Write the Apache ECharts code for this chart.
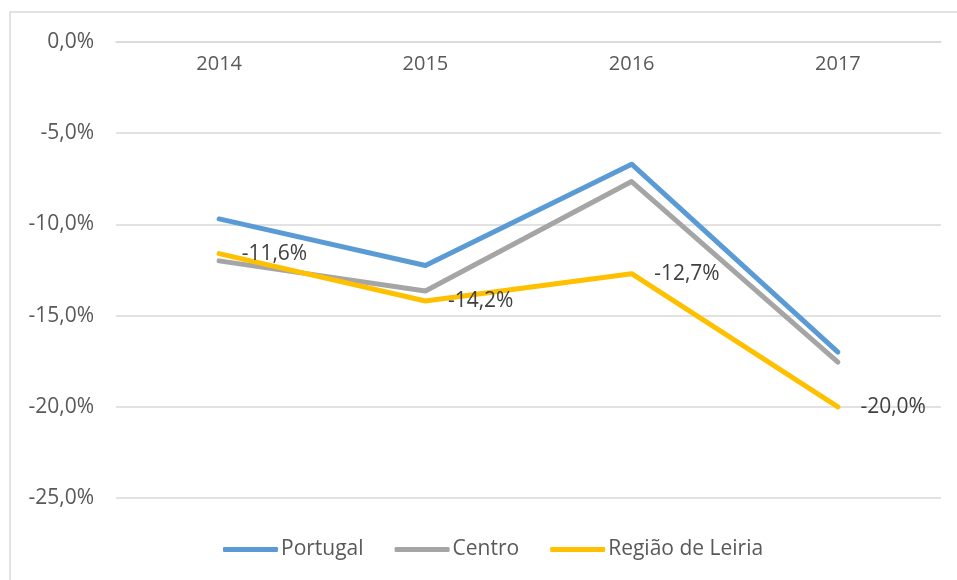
<!DOCTYPE html>
<html>
<head>
<meta charset="utf-8">
<script src="https://cdn.jsdelivr.net/npm/echarts@6/dist/echarts.min.js"></script>
<style>
  html, body { margin: 0; padding: 0; background: #fff; }
  #chart { width: 957px; height: 580px; }
</style>
</head>
<body>
<div id="chart"></div>
<script>
var years = ["2014", "2015", "2016", "2017"];
var portugal = [-9.7, -12.25, -6.7, -17.0];
var centro = [-12.0, -13.65, -7.65, -17.55];
var leiria = [-11.6, -14.2, -12.7, -20.0];

var fontFamily = "'Open Sans', 'Liberation Sans', sans-serif";
var textColor = "#595959";

function pct(v) {
  return v.toFixed(1).replace(".", ",") + "%";
}

var chart = echarts.init(document.getElementById("chart"));
var option = {
  animation: false,
  backgroundColor: "#fff",
  graphic: [
    {
      type: "rect",
      shape: { x: 10, y: 12, width: 960, height: 600 },
      style: { fill: "none", stroke: "#d9d9d9", lineWidth: 1.5 },
    },
  ],
  grid: {
    left: 116,
    right: 16,
    top: 42,
    bottom: 82,
  },
  legend: {
    bottom: 15,
    left: 218,
    itemWidth: 55,
    itemHeight: 5,
    itemGap: 31,
    icon: "roundRect",
    textStyle: { color: textColor, fontSize: 21, fontFamily: fontFamily, padding: [0, 0, 0, -2] },
    data: ["Portugal", "Centro", "Região de Leiria"],
  },
  xAxis: {
    type: "category",
    position: "top",
    data: years,
    boundaryGap: true,
    axisLine: { show: true, lineStyle: { color: "#d9d9d9", width: 1.5 } },
    axisTick: { show: false },
    axisLabel: {
      inside: true,
      margin: 22,
      color: textColor,
      fontSize: 20,
      fontFamily: fontFamily,
      verticalAlign: "middle",
    },
  },
  yAxis: {
    type: "value",
    min: -25,
    max: 0,
    interval: 5,
    axisLine: { show: false },
    axisTick: { show: false },
    splitLine: { lineStyle: { color: "#d9d9d9", width: 1.5 } },
    axisLabel: {
      margin: 22,
      color: textColor,
      fontSize: 21,
      fontFamily: fontFamily,
      formatter: function (v) {
        return pct(v);
      },
    },
  },
  series: [
    {
      name: "Portugal",
      type: "line",
      data: portugal,
      symbol: "none",
      lineStyle: { color: "#5b9bd5", width: 5, cap: "round", join: "round" },
      itemStyle: { color: "#5b9bd5" },
    },
    {
      name: "Centro",
      type: "line",
      data: centro,
      symbol: "none",
      lineStyle: { color: "#a5a5a5", width: 5, cap: "round", join: "round" },
      itemStyle: { color: "#a5a5a5" },
    },
    {
      name: "Região de Leiria",
      type: "line",
      data: leiria,
      symbol: "circle",
      symbolSize: 1,
      showSymbol: true,
      lineStyle: { color: "#ffc000", width: 5, cap: "round", join: "round" },
      itemStyle: { color: "#ffc000" },
      label: {
        show: true,
        position: "right",
        distance: 22,
        color: "#404040",
        fontSize: 21,
        fontFamily: fontFamily,
        formatter: function (p) {
          return pct(p.value);
        },
      },
    },
  ],
};
chart.setOption(option);
</script>
</body>
</html>
